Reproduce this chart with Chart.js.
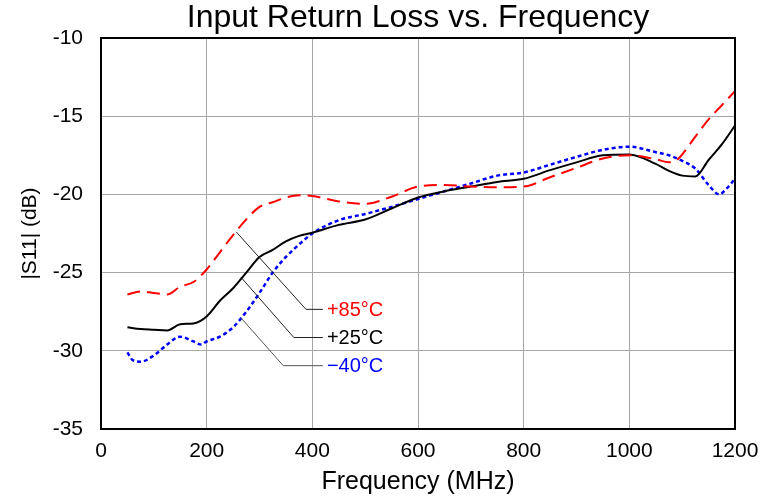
<!DOCTYPE html>
<html>
<head>
<meta charset="utf-8">
<script src="https://cdn.jsdelivr.net/npm/chart.js@4"></script>
<style>
  html, body { margin: 0; padding: 0; background: #fff; }
  #wrap { width: 777px; height: 497px; }
</style>
</head>
<body>
<div id="wrap"><canvas id="S11Chart"></canvas></div>
<script>
const chart_title = 'Input Return Loss vs. Frequency';
const x_title = 'Frequency (MHz)';
const y_title = '|S11| (dB)';

const x_ticks = [0, 200, 400, 600, 800, 1000, 1200];
const y_ticks = [-10, -15, -20, -25, -30, -35];

// +85°C
const freq_hot = [50, 75, 100, 125, 150, 175, 200, 225, 250, 275, 300, 325, 350, 375, 400, 450, 500, 550, 600, 650, 700, 750, 800, 850, 900, 950, 1000, 1050, 1075, 1090, 1125, 1150, 1175, 1200];
const s11_hot = [-26.4, -26.2, -26.3, -26.4, -25.9, -25.6, -24.8, -23.7, -22.6, -21.6, -20.8, -20.5, -20.2, -20.05, -20.1, -20.45, -20.6, -20.15, -19.5, -19.4, -19.5, -19.55, -19.5, -18.9, -18.3, -17.7, -17.5, -17.75, -17.95, -17.8, -16.3, -15.2, -14.3, -13.4];

// +25°C
const freq_room = [50, 75, 100, 125, 150, 175, 200, 225, 250, 275, 300, 325, 350, 375, 400, 450, 500, 550, 600, 650, 700, 750, 800, 850, 900, 950, 1000, 1050, 1075, 1100, 1125, 1150, 1175, 1200];
const s11_room = [-28.5, -28.6, -28.65, -28.7, -28.3, -28.25, -27.8, -26.8, -26.0, -25.0, -24.0, -23.55, -23.0, -22.65, -22.45, -21.95, -21.6, -20.9, -20.2, -19.8, -19.5, -19.2, -19.0, -18.45, -17.95, -17.5, -17.45, -18.05, -18.5, -18.8, -18.85, -17.8, -16.8, -15.6];

// -40°C
const freq_cold = [50, 60, 75, 100, 125, 150, 175, 190, 200, 225, 250, 275, 300, 325, 350, 375, 400, 450, 500, 550, 600, 650, 700, 750, 800, 850, 900, 950, 1000, 1050, 1075, 1100, 1125, 1150, 1170, 1185, 1200];
const s11_cold = [-30.1, -30.6, -30.7, -30.3, -29.6, -29.1, -29.4, -29.6, -29.4, -29.1, -28.5, -27.5, -26.3, -25.0, -24.0, -23.2, -22.5, -21.65, -21.25, -20.8, -20.3, -19.8, -19.3, -18.8, -18.6, -18.1, -17.6, -17.15, -16.95, -17.3, -17.5, -17.85, -18.35, -19.4, -20.0, -19.6, -19.0];

// callout labels (start on curve, elbow, end of leader) in MHz / dB
const callout_text = ['+85°C', '+25°C', '\u221240°C'];
const callout_color = ['#ff0000', '#000000', '#0000ff'];
const callout_start = [[256, -22.4], [265, -25.3], [265, -27.9]];
const callout_elbow = [[388, -27.35], [365, -29.15], [345, -30.95]];
const callout_end_x = 420;

const FONT = "'Liberation Sans', Arial, sans-serif";

function toPoints(xs, ys) {
    return xs.map((x, i) => ({x: x, y: ys[i]}));
}

const framePlugin = {
    id: 'frame',
    afterDraw(chart) {
        const ctx = chart.ctx;
        const a = chart.chartArea;
        const xs = chart.scales.x;
        const ys = chart.scales.y;
        ctx.save();

        // title
        ctx.fillStyle = '#000';
        ctx.font = '32px ' + FONT;
        ctx.textAlign = 'center';
        ctx.textBaseline = 'middle';
        ctx.fillText(chart_title, (a.left + a.right) / 2, 18);

        // callouts
        ctx.font = '20px ' + FONT;
        ctx.textAlign = 'left';
        callout_text.forEach((t, i) => {
            const sx = xs.getPixelForValue(callout_start[i][0]);
            const sy = ys.getPixelForValue(callout_start[i][1]);
            const ex = xs.getPixelForValue(callout_elbow[i][0]);
            const ey = ys.getPixelForValue(callout_elbow[i][1]);
            const fx = xs.getPixelForValue(callout_end_x);
            const w = ctx.measureText(t).width;
            ctx.fillStyle = '#fff';
            ctx.fillRect(fx + 2, ey - 11, w + 6, 22);
            ctx.strokeStyle = i === 2 ? '#555' : '#222';
            ctx.lineWidth = 1;
            ctx.beginPath();
            ctx.moveTo(sx, sy);
            ctx.lineTo(ex, ey);
            ctx.lineTo(fx, ey);
            ctx.stroke();
            ctx.fillStyle = callout_color[i];
            ctx.fillText(t, fx + 4, ey + 1);
        });

        // plot frame
        ctx.strokeStyle = '#000';
        ctx.lineWidth = 2;
        ctx.strokeRect(a.left, a.top, a.right - a.left, a.bottom - a.top);
        ctx.restore();
    }
};

const s11_canvas = document.getElementById('S11Chart');

const s11_chart = new Chart(
    s11_canvas,
    {
        type: 'line',
        data: {
            datasets: [
                {
                    label: '+85°C',
                    data: toPoints(freq_hot, s11_hot),
                    borderColor: '#ff0000',
                    borderWidth: 2,
                    borderDash: [13, 7],
                },
                {
                    label: '+25°C',
                    data: toPoints(freq_room, s11_room),
                    borderColor: '#000000',
                    borderWidth: 2,
                },
                {
                    label: '-40°C',
                    data: toPoints(freq_cold, s11_cold),
                    borderColor: '#0000ff',
                    borderWidth: 2.5,
                    borderDash: [4, 3],
                }
            ]
        },
        options: {
            responsive: true,
            maintainAspectRatio: false,
            animation: false,
            layout: {
                padding: {top: 38, right: 42, left: 0, bottom: 0}
            },
            elements: {
                point: {radius: 0},
                line: {tension: 0.4, cubicInterpolationMode: 'monotone', fill: false}
            },
            scales: {
                x: {
                    type: 'linear',
                    min: 0,
                    max: 1200,
                    afterBuildTicks: (axis) => { axis.ticks = x_ticks.map(v => ({value: v})); },
                    afterFit: (axis) => { axis.height = 68; },
                    grid: {color: '#a6a6a6', lineWidth: 1, drawTicks: false},
                    border: {display: false},
                    ticks: {
                        padding: 10,
                        color: '#000',
                        maxRotation: 0,
                        font: {family: FONT, size: 21},
                        callback: (v) => String(v)
                    },
                    title: {
                        display: true,
                        text: x_title,
                        color: '#000',
                        padding: {top: 2, bottom: 0},
                        font: {family: FONT, size: 25}
                    }
                },
                y: {
                    type: 'linear',
                    min: -35,
                    max: -10,
                    afterBuildTicks: (axis) => { axis.ticks = y_ticks.map(v => ({value: v})); },
                    afterFit: (axis) => { axis.width = 101; },
                    grid: {color: '#a6a6a6', lineWidth: 1, drawTicks: false},
                    border: {display: false},
                    ticks: {
                        padding: 18,
                        color: '#000',
                        font: {family: FONT, size: 21},
                        callback: (v) => String(v)
                    },
                    title: {
                        display: true,
                        text: y_title,
                        color: '#000',
                        padding: {top: 18, bottom: 0},
                        font: {family: FONT, size: 21}
                    }
                }
            },
            plugins: {
                legend: {display: false},
                tooltip: {enabled: false}
            }
        },
        plugins: [framePlugin]
    }
);
</script>
</body>
</html>
